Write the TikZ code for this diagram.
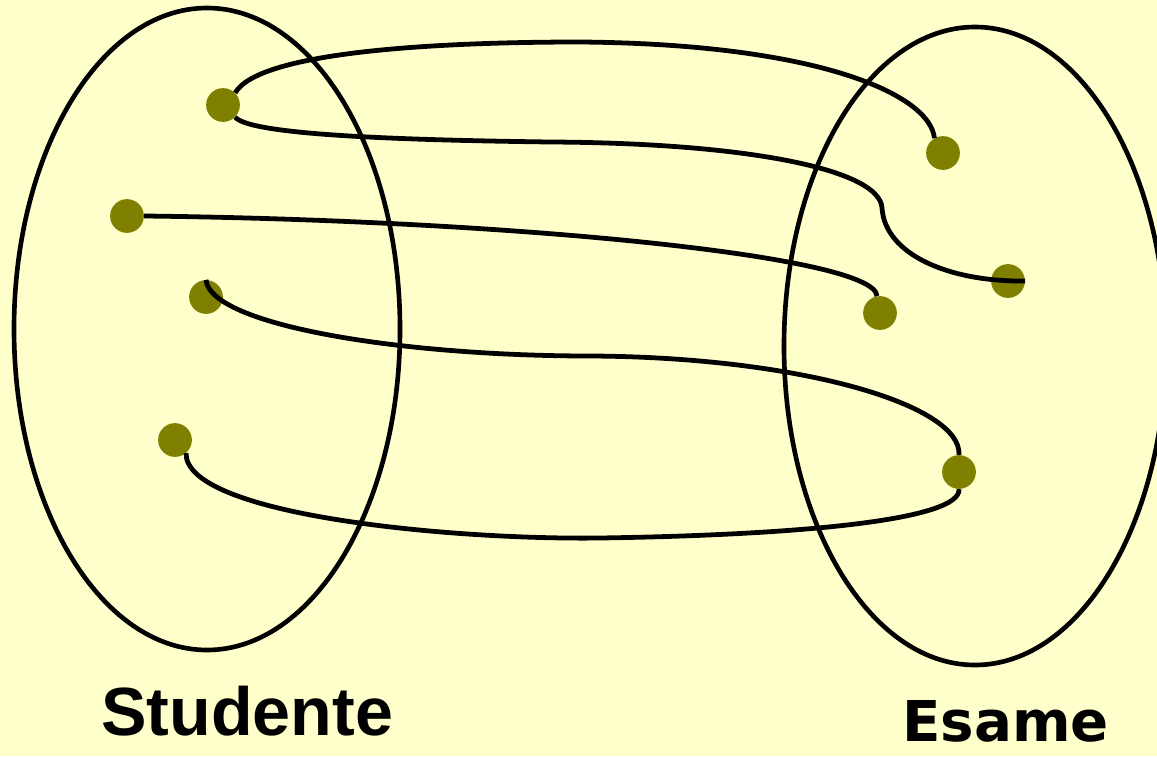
\documentclass[tikz,border=0pt]{standalone}
\usepackage{fontspec}
\setmainfont{Liberation Sans}
\newfontfamily\esamefont{DejaVu Sans}
\definecolor{bgyellow}{HTML}{FFFFCC}
\definecolor{dotolive}{HTML}{808000}
\begin{document}
\begin{tikzpicture}[x=0.025cm,y=-0.025cm,
  dot/.style={circle,fill=dotolive,inner sep=0pt,minimum size=24pt},
  link/.style={line width=3.4pt,line cap=butt},
  setline/.style={line width=3.3pt},
  label/.style={inner sep=0pt,font=\bfseries}]
\fill[bgyellow] (0,0) rectangle (1157,756);
\useasboundingbox (0,0) rectangle (1157,756);
% sets
\draw[setline] (207,329) ellipse [x radius=193, y radius=321];
\draw[setline] (975,346) ellipse [x radius=191, y radius=319];
% elements
\node[dot] (A) at (223,105) {};
\node[dot] (B) at (127,216) {};
\node[dot] (C) at (206,297) {};
\node[dot] (D) at (175,440) {};
\node[dot] (E) at (943,153) {};
\node[dot] (F) at (1008,281) {};
\node[dot] (G) at (880,313) {};
\node[dot] (H) at (959,472) {};
% connectors
\draw[link] (A.45) .. controls (260,50) and (450,42) .. (580,42)
  .. controls (820,44) and (930,95) .. (E.120);
\draw[link] (A.-45) .. controls (250,135) and (400,140) .. (550,142)
  .. controls (750,143) and (880,170) .. (882,208)
  .. controls (885,255) and (950,282) .. (F.east);
\draw[link] (B.east) .. controls (500,220) and (875,255) .. (G.100);
\draw[link] (C.north) .. controls (210,325) and (400,356) .. (590,356)
  .. controls (800,357) and (962,405) .. (H.north);
\draw[link] (D.-50) .. controls (185,515) and (450,540) .. (600,538)
  .. controls (800,535) and (961,520) .. (H.south);
% labels
\node[label,anchor=base west,font=\bfseries\fontsize{48.5}{52}\selectfont] (stud) at (101,735) {Studente};
\node[label,anchor=base west,font=\esamefont\bfseries\fontsize{40}{44}\selectfont] (esame) at (902,741) {Esame};
\end{tikzpicture}
\end{document}
